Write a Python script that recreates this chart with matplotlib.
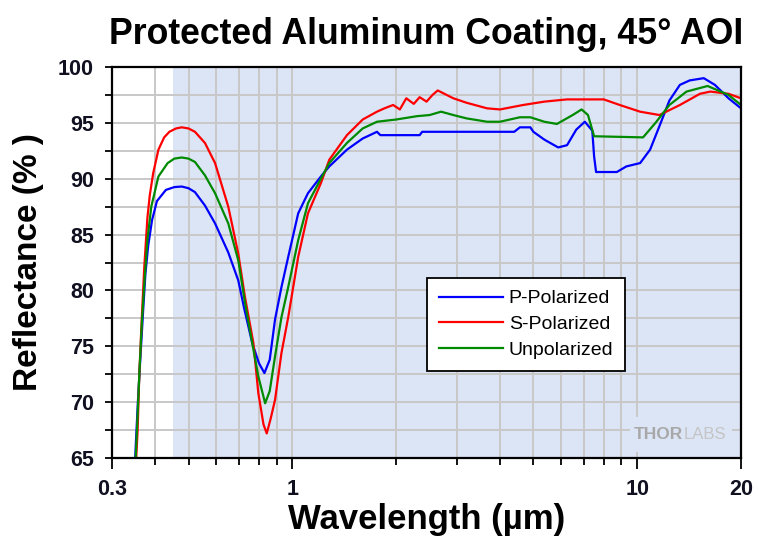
import matplotlib
matplotlib.use("Agg")
import matplotlib.pyplot as plt
from matplotlib.patches import Rectangle
from matplotlib.ticker import FixedLocator, NullFormatter, FixedFormatter

plt.rcParams['font.family'] = ['Liberation Sans', 'DejaVu Sans']

# ---- data ----
wl_p = [0.348, 0.352, 0.357, 0.362, 0.369, 0.375, 0.382, 0.392, 0.405, 0.43, 0.455, 0.478,
        0.50, 0.522, 0.558, 0.597, 0.652, 0.697, 0.725, 0.765, 0.80, 0.83, 0.86, 0.891,
        0.93, 0.973, 1.04, 1.11, 1.21, 1.28, 1.44, 1.60, 1.76, 1.80, 2.34, 2.38,
        4.4, 4.57, 4.9, 5.0, 5.38, 5.9, 6.26, 6.66, 7.05, 7.41, 7.5, 7.6, 8.73,
        9.3, 10.2, 10.9, 11.6, 12.4, 13.3, 14.2, 15.6, 16.8, 18.4, 20.0]
r_p = [63.0, 66.5, 70.3, 73.6, 78.0, 81.5, 84.0, 86.3, 88.0, 89.0, 89.25, 89.3,
       89.15, 88.8, 87.6, 86.0, 83.4, 80.9, 78.4, 75.3, 73.5, 72.6, 73.8, 77.4,
       80.3, 83.0, 86.9, 88.7, 90.2, 91.1, 92.6, 93.6, 94.2, 93.9, 93.9, 94.2,
       94.2, 94.6, 94.6, 94.2, 93.5, 92.8, 93.0, 94.4, 95.1, 94.3, 92.0, 90.6, 90.6,
       91.1, 91.4, 92.6, 94.7, 97.0, 98.4, 98.8, 99.0, 98.4, 97.2, 96.3]

wl_s = [0.35, 0.356, 0.36, 0.366, 0.372, 0.38, 0.386, 0.395, 0.409, 0.425, 0.44, 0.46, 0.478,
        0.50, 0.522, 0.558, 0.597, 0.652, 0.697, 0.729, 0.771, 0.797, 0.825, 0.843, 0.865,
        0.891, 0.93, 0.973, 1.04, 1.11, 1.21, 1.28, 1.44, 1.60, 1.76, 1.85, 1.96,
        2.05, 2.14, 2.25, 2.34, 2.45, 2.55, 2.64, 2.93, 3.2, 3.67, 4.0, 4.67, 5.38,
        6.26, 8.0, 8.9, 10.2, 11.6, 13.3, 15.2, 16.3, 18.4, 20.0]
r_s = [63.0, 67.5, 72.5, 77.5, 82.0, 86.5, 88.5, 90.5, 92.6, 93.7, 94.2, 94.5, 94.6,
       94.5, 94.2, 93.2, 91.4, 87.5, 83.3, 79.4, 75.3, 70.8, 68.0, 67.2, 68.5,
       70.2, 74.4, 77.6, 83.0, 86.9, 89.6, 91.7, 93.9, 95.3, 96.0, 96.3, 96.6,
       96.2, 97.2, 96.7, 97.3, 96.9, 97.5, 97.9, 97.2, 96.8, 96.3, 96.2, 96.6, 96.9,
       97.1, 97.1, 96.6, 96.0, 95.7, 96.6, 97.6, 97.8, 97.6, 97.2]

wl_u = [0.349, 0.355, 0.36, 0.366, 0.373, 0.38, 0.39, 0.409, 0.435, 0.455, 0.478,
        0.50, 0.522, 0.558, 0.597, 0.652, 0.697, 0.729, 0.765, 0.797, 0.834, 0.86,
        0.891, 0.93, 0.973, 1.04, 1.11, 1.21, 1.28, 1.44, 1.60, 1.76, 2.0, 2.3,
        2.5, 2.7, 2.93, 3.2, 3.67, 4.0, 4.57, 4.9, 5.38, 5.85, 6.5, 6.9, 7.2,
        7.5, 10.4, 11.3, 12.4, 13.9, 16.0, 18.4, 20.0]
r_u = [63.0, 68.0, 72.5, 77.0, 81.0, 84.5, 87.5, 90.2, 91.4, 91.8, 91.9,
       91.8, 91.5, 90.3, 88.7, 86.0, 82.7, 78.9, 75.3, 72.3, 69.9, 71.0,
       74.1, 77.6, 80.3, 84.5, 87.8, 90.0, 91.4, 93.2, 94.5, 95.1, 95.3, 95.6,
       95.7, 96.0, 95.7, 95.4, 95.1, 95.1, 95.5, 95.5, 95.1, 94.9, 95.7, 96.2, 95.7,
       93.8, 93.7, 95.0, 96.6, 97.8, 98.3, 97.5, 96.6]

series_labels = ['P-Polarized', 'S-Polarized', 'Unpolarized']
x_tick_labels = ['0.3', '1', '10', '20']
x_tick_vals = [0.3, 1, 10, 20]
y_tick_vals = [65, 70, 75, 80, 85, 90, 95, 100]
band = (0.45, 20)
band_color = '#dce5f5'

# ---- figure ----
fig = plt.figure(figsize=(7.59, 5.38), dpi=100)
ax = fig.add_axes([112/759, 1-458/538, 629/759, 391/538])

ax.set_xscale('log')
ax.set_xlim(0.3, 20)
ax.set_ylim(65, 100)

ax.axvspan(band[0], band[1], color=band_color, zorder=0, lw=0)

grid_x = [0.4, 0.5, 0.6, 0.7, 0.8, 0.9, 1, 2, 3, 4, 5, 6, 7, 8, 9, 10]
for gx in grid_x:
    ax.axvline(gx, color='#c8c8c8', lw=1.4, zorder=1)
for gy in [65 + 2.5*i for i in range(1, 14)]:
    ax.axhline(gy, color='#c8c8c8', lw=1.4, zorder=1)

lp, = ax.plot(wl_p, r_p, color='#0000ff', lw=1.6, zorder=3)
ls, = ax.plot(wl_s, r_s, color='#ff0000', lw=1.6, zorder=3)
lu, = ax.plot(wl_u, r_u, color='#008a00', lw=1.6, zorder=3)

# ticks
ax.xaxis.set_major_locator(FixedLocator(x_tick_vals))
ax.xaxis.set_major_formatter(FixedFormatter(x_tick_labels))
ax.xaxis.set_minor_locator(FixedLocator([0.4, 0.5, 0.6, 0.7, 0.8, 0.9, 2, 3, 4, 5, 6, 7, 8, 9]))
ax.xaxis.set_minor_formatter(NullFormatter())
ax.yaxis.set_major_locator(FixedLocator(y_tick_vals))
ax.yaxis.set_minor_locator(FixedLocator([67.5 + 5*i for i in range(7)]))

ax.tick_params(axis='both', which='both', direction='out', width=1.3, color='black')
ax.tick_params(axis='x', which='major', length=8, pad=7)
ax.tick_params(axis='x', which='minor', length=5)
ax.tick_params(axis='y', which='both', length=5, pad=8)
for lab in ax.get_xticklabels() + ax.get_yticklabels():
    lab.set_fontsize(15.5)
    lab.set_fontweight('bold')
    lab.set_color('#101020')

for sp in ax.spines.values():
    sp.set_linewidth(1.6)
    sp.set_color('black')
    sp.set_zorder(5)

ax.set_xlabel('Wavelength (µm)', fontsize=25, fontweight='bold', labelpad=2)
ax.set_ylabel('Reflectance (% )', fontsize=24, fontweight='bold', labelpad=10)
fig.text(426/759, 1-34/538, 'Protected Aluminum Coating, 45° AOI', fontsize=25.7,
         fontweight='bold', ha='center', va='center')

leg = ax.legend([lp, ls, lu], series_labels, loc='upper left',
                bbox_to_anchor=(0.501, 0.46), fontsize=14, frameon=True,
                fancybox=False, edgecolor='black', framealpha=1,
                handlelength=3.3, handletextpad=0.3, labelspacing=0.42,
                borderpad=0.6, borderaxespad=0)
leg.get_frame().set_linewidth(1.3)
leg.set_zorder(6)

# watermark with a background patch covering the grid
ax.add_patch(Rectangle((0.824, 0.015), 0.162, 0.09, transform=ax.transAxes,
                       facecolor=band_color, edgecolor='none', zorder=2))
ax.text(0.908, 0.059, 'THOR', transform=ax.transAxes, fontsize=12.5, fontweight='bold',
        color='#a8a8a8', ha='right', va='center', zorder=4)
ax.text(0.908, 0.059, 'LABS', transform=ax.transAxes, fontsize=12,
        color='#c4c4c4', ha='left', va='center', zorder=4)

fig.savefig('out.png', dpi=100)
